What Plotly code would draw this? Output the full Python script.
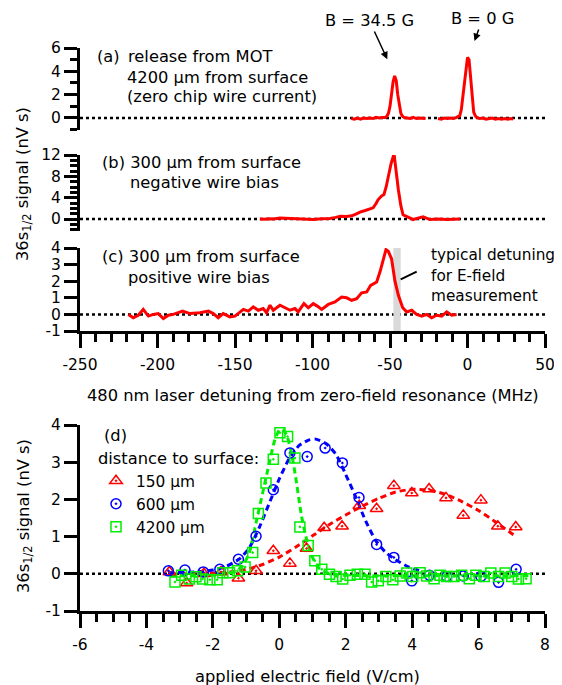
import plotly.graph_objects as go

# ---------------- data ----------------
# panel (a): release from MOT, two separate scans
a1_x = [-75, -73, -71, -69, -67, -65, -63, -61, -59, -57, -55, -53, -52, -51, -50, -49, -48, -47, -46, -45, -44, -43, -42, -41, -39, -37, -35, -33, -31, -29, -27]
a1_y = [-0.05, -0.1, 0.0, -0.1, 0.0, -0.05, 0.0, -0.05, 0.05, 0.0, 0.05, 0.05, 0.15, 0.4, 1.0, 2.0, 3.1, 3.6, 3.2, 2.0, 1.0, 0.4, 0.15, 0.05, 0.0, -0.05, 0.05, -0.05, 0.0, -0.05, -0.05]
a2_x = [-19, -17, -15, -13, -11, -9, -7, -5, -4, -3, -2, -1, 0, 1, 2, 3, 4, 5, 6, 8, 10, 12, 14, 16, 18, 20, 22, 24, 26, 28, 29.5]
a2_y = [-0.05, -0.1, 0.0, -0.05, 0.0, -0.05, 0.05, 0.2, 0.7, 1.8, 3.1, 4.4, 5.2, 5.0, 3.5, 1.6, 0.5, 0.2, 0.05, -0.05, 0.0, -0.1, -0.05, 0.0, -0.1, -0.05, -0.1, -0.05, -0.1, -0.05, -0.1]

# panel (b): 300 um, negative wire bias
b_x = [-134, -131, -128, -125, -121, -116, -110, -105, -99.6, -94, -88.7, -85, -82, -78, -74.7, -72, -69.4, -66, -64, -60.9, -59, -57.7, -55.5, -53.9, -52.5, -51.2, -49.3, -47.4, -46, -44.6, -43, -41.6, -38, -35.1, -31.5, -28.6, -24.2, -19, -13.4, -9, -4.8]
b_y = [0.0, -0.05, 0.05, 0.0, 0.2, 0.15, 0.1, 0.0, -0.1, 0.05, 0.1, 0.3, 0.5, 0.45, 0.6, 0.9, 1.3, 1.6, 1.8, 2.1, 2.9, 3.6, 4.3, 4.6, 6.0, 8.0, 10.4, 12.2, 8.5, 5.5, 2.5, 0.8, 0.3, -0.1, 0.2, 0.4, -0.1, 0.0, -0.1, -0.05, 0.0]

# panel (c): 300 um, positive wire bias
c_x = [-218.8, -215.6, -212.4, -209.2, -205.9, -202.7, -199.5, -196.2, -193, -189.8, -183.8, -179, -172.6, -167.2, -164, -160.8, -157.6, -153.3, -150, -144.6, -141.4, -138.2, -135, -131.8, -129.7, -127.4, -125.3, -122, -121, -117.7, -114.5, -111.3, -109.2, -107, -105.5, -102.7, -99.5, -96.9, -94.1, -89.8, -85.5, -81.2, -78, -74.7, -71.5, -68.3, -65, -62.5, -58.6, -56.5, -54.3, -52.6, -51.1, -49, -46.8, -44.6, -41.8, -39.2, -36, -32.8, -29.5, -26.3, -23.1, -19.9, -16.6, -13.4, -10.2, -7]
c_y = [0.0, -0.2, -0.05, 0.3, -0.1, 0.0, 0.05, -0.25, -0.05, 0.0, 0.2, 0.05, 0.1, 0.2, 0.05, -0.2, 0.05, -0.15, -0.1, 0.3, 0.2, 0.45, 0.25, 0.35, 0.1, 0.55, 0.25, 0.45, 0.55, 0.4, 0.25, 0.35, 0.15, 0.45, 0.65, 0.4, 0.65, 0.5, 0.3, 0.6, 0.75, 1.05, 1.0, 0.85, 0.95, 1.3, 1.35, 1.75, 1.95, 2.55, 3.25, 3.9, 3.8, 3.35, 2.0, 1.15, 0.4, 0.15, 0.25, 0.0, -0.1, 0.0, -0.2, -0.05, -0.1, 0.15, -0.05, 0.0]

# typical detuning band (MHz)
band_lo, band_hi = -47.8, -43.1

# panel (d): signal vs applied field
red_x = [-3.31, -2.79, -2.27, -1.75, -1.23, -0.7, -0.18, 0.32, 0.82, 1.35, 1.89, 2.41, 2.93, 3.45, 3.99, 4.51, 5.02, 5.54, 6.07, 6.58, 7.12]
red_y = [0.05, -0.25, 0.0, 0.05, -0.12, 0.08, 0.62, 0.28, 0.68, 1.24, 1.28, 1.83, 1.75, 2.37, 2.17, 2.28, 2.04, 1.57, 1.98, 1.28, 1.26]
blue_x = [-3.34, -2.84, -2.29, -1.79, -1.23, -0.7, -0.18, 0.32, 0.84, 1.38, 1.9, 2.4, 2.93, 3.45, 3.99, 4.52, 5.04, 5.54, 6.07, 6.6, 7.13]
blue_y = [0.08, 0.1, 0.05, 0.12, 0.39, 1.01, 2.26, 3.25, 3.15, 3.38, 2.98, 2.05, 0.79, 0.44, -0.19, -0.04, -0.07, -0.06, -0.07, -0.23, 0.12]
green_x = [-3.14, -2.94, -2.71, -2.51, -2.31, -2.09, -1.87, -1.7, -1.5, -1.26, -1.03, -0.8, -0.63, -0.4, -0.18, 0.02, 0.25, 0.47, 0.62, 0.87, 1.07, 1.28, 1.51, 1.71, 1.91, 2.13, 2.35, 2.58, 2.78, 2.98, 3.21, 3.42, 3.64, 3.84, 4.02, 4.24, 4.44, 4.66, 4.84, 5.04, 5.26, 5.49, 5.72, 5.92, 6.17, 6.37, 6.6, 6.8, 7.0, 7.2, 7.43]
green_y = [-0.22, -0.04, -0.14, -0.08, -0.14, -0.16, -0.16, 0.03, 0.03, 0.08, 0.18, 0.57, 1.62, 2.44, 3.08, 3.79, 3.69, 3.11, 1.26, 0.76, 0.35, 0.12, -0.01, -0.07, -0.14, -0.04, -0.01, -0.01, -0.22, -0.19, -0.07, -0.16, -0.06, 0.02, -0.07, 0.03, -0.06, -0.13, -0.04, -0.07, -0.07, -0.04, -0.13, -0.04, -0.07, 0.02, -0.07, 0.02, -0.07, -0.14, -0.13]

red_fit_x = [-3.3, -2.5, -2.0, -1.5, -1.0, -0.5, 0.0, 0.5, 1.0, 1.5, 2.0, 2.5, 3.0, 3.5, 4.0, 4.5, 5.0, 5.5, 6.0, 6.5, 7.05]
red_fit_y = [0.0, 0.0, 0.02, 0.05, 0.12, 0.25, 0.45, 0.72, 1.02, 1.32, 1.58, 1.82, 2.03, 2.2, 2.27, 2.25, 2.14, 1.94, 1.7, 1.4, 1.05]
blue_fit_x = [-3.35, -2.5, -2.0, -1.6, -1.2, -0.9, -0.6, -0.3, 0.0, 0.3, 0.6, 0.9, 1.1, 1.4, 1.7, 2.0, 2.3, 2.6, 2.9, 3.2, 3.5, 3.9, 4.3]
blue_fit_y = [0.03, 0.05, 0.1, 0.2, 0.4, 0.7, 1.25, 1.9, 2.55, 3.1, 3.45, 3.6, 3.62, 3.5, 3.22, 2.67, 2.07, 1.42, 0.9, 0.58, 0.38, 0.18, 0.06]
green_fit_x = [-3.3, -2.5, -2.0, -1.6, -1.3, -1.1, -0.9, -0.7, -0.5, -0.3, -0.15, 0.0, 0.1, 0.22, 0.37, 0.52, 0.67, 0.82, 0.98, 1.17, 1.43, 1.8, 2.5, 3.5, 4.5, 5.5, 6.5, 7.5]
green_fit_y = [-0.05, -0.05, -0.04, 0.0, 0.07, 0.22, 0.57, 1.37, 2.18, 2.98, 3.55, 3.86, 3.88, 3.73, 3.24, 2.44, 1.55, 0.93, 0.48, 0.17, 0.03, -0.03, -0.05, -0.05, -0.05, -0.05, -0.05, -0.05]

legend_names = ["150 µm", "600 µm", "4200 µm"]

# tick values / labels (hyphen minus as in the reference)
top_xticks = [-250, -200, -150, -100, -50, 0, 50]
top_xlabels = ["-250", "-200", "-150", "-100", "-50", "0", "50"]
a_yticks = [0, 2, 4, 6]
b_yticks = [0, 4, 8, 12]
c_yticks = [-1, 0, 1, 2, 3, 4]
c_ylabels = ["-1", "0", "1", "2", "3", "4"]
d_xticks = [-6, -4, -2, 0, 2, 4, 6, 8]
d_xlabels = ["-6", "-4", "-2", "0", "2", "4", "6", "8"]
d_yticks = [-1, 0, 1, 2, 3, 4]
d_ylabels = ["-1", "0", "1", "2", "3", "4"]

# ---------------- layout helpers ----------------
OFF = 8            # page body margin of the browser
W, H = 562 - OFF, 685 - OFF
FONT = "DejaVu Sans"
FS = 16.3
TFS = 15.5


def px(x):
    return (x - OFF) / W


def py(y):
    return 1 - (y - OFF) / H


RED = "#ff0000"
BLUE = "#0000ff"
GREEN = "#00ee00"

fig = go.Figure()

fig.add_trace(go.Scatter(x=a1_x, y=a1_y, mode="lines", line=dict(color=RED, width=3), xaxis="x2", yaxis="y2", showlegend=False))
fig.add_trace(go.Scatter(x=a2_x, y=a2_y, mode="lines", line=dict(color=RED, width=3), xaxis="x2", yaxis="y2", showlegend=False))
fig.add_trace(go.Scatter(x=b_x, y=b_y, mode="lines", line=dict(color=RED, width=3), xaxis="x3", yaxis="y3", showlegend=False))
fig.add_trace(go.Scatter(x=c_x, y=c_y, mode="lines", line=dict(color=RED, width=3), xaxis="x", yaxis="y", showlegend=False))

dash = "6px,4px"
fig.add_trace(go.Scatter(x=red_fit_x, y=red_fit_y, mode="lines", line=dict(color=RED, width=3, dash=dash, shape="spline", smoothing=0.6), xaxis="x4", yaxis="y4", showlegend=False))
fig.add_trace(go.Scatter(x=blue_fit_x, y=blue_fit_y, mode="lines", line=dict(color=BLUE, width=3, dash=dash, shape="spline", smoothing=0.6), xaxis="x4", yaxis="y4", showlegend=False))
fig.add_trace(go.Scatter(x=green_fit_x, y=green_fit_y, mode="lines", line=dict(color=GREEN, width=3, dash=dash, shape="spline", smoothing=0.6), xaxis="x4", yaxis="y4", showlegend=False))

fig.add_trace(go.Scatter(x=red_x, y=red_y, mode="markers", name=legend_names[0],
                         marker=dict(symbol="triangle-up-open-dot", size=11, color=RED, line=dict(width=1.5, color=RED)),
                         xaxis="x4", yaxis="y4"))
fig.add_trace(go.Scatter(x=blue_x, y=blue_y, mode="markers", name=legend_names[1],
                         marker=dict(symbol="circle-open-dot", size=10, color=BLUE, line=dict(width=1.5, color=BLUE)),
                         xaxis="x4", yaxis="y4"))
fig.add_trace(go.Scatter(x=green_x, y=green_y, mode="markers", name=legend_names[2],
                         marker=dict(symbol="square-open-dot", size=10, color=GREEN, line=dict(width=1.5, color=GREEN)),
                         xaxis="x4", yaxis="y4"))

xdom = [px(80), px(545)]
tickfont = dict(family=FONT, size=TFS, color="black")

common_y = dict(showline=True, linecolor="black", linewidth=3, ticks="outside", ticklen=13, tickwidth=2.5,
                tickcolor="black", showgrid=False, zeroline=False, tickfont=tickfont, mirror=False, automargin=False)
common_x = dict(showline=True, linecolor="black", linewidth=3, ticks="outside", ticklen=14, tickwidth=2.5,
                tickcolor="black", showgrid=False, zeroline=False, tickfont=tickfont, mirror=False, automargin=False,
                ticklabelstandoff=3)
minor_x = dict(ticks="outside", ticklen=8, tickwidth=2.5, tickcolor="black")
minor_y = dict(ticks="outside", ticklen=7, tickwidth=2.5, tickcolor="black")

fig.update_layout(
    width=W, height=H,
    margin=dict(l=0, r=0, t=0, b=0, autoexpand=False),
    paper_bgcolor="white", plot_bgcolor="white",
    font=dict(family=FONT, size=FS, color="black"),
    xaxis=dict(domain=xdom, range=[-250, 50], tickvals=top_xticks, ticktext=top_xlabels, anchor="y",
               minor=dict(dtick=10, **minor_x), **common_x),
    yaxis=dict(domain=[py(331), py(248)], range=[-1, 4], tickvals=c_yticks, ticktext=c_ylabels, anchor="x", **common_y),
    xaxis2=dict(domain=xdom, range=[-250, 50], matches="x", anchor="y2", visible=False),
    yaxis2=dict(domain=[py(130), py(48)], range=[-1.03, 6], tickvals=a_yticks, anchor="x2",
                minor=dict(dtick=1, **minor_y), **common_y),
    xaxis3=dict(domain=xdom, range=[-250, 50], matches="x", anchor="y3", visible=False),
    yaxis3=dict(domain=[py(231), py(155)], range=[-2.25, 12], tickvals=b_yticks, anchor="x3",
                minor=dict(dtick=1, **minor_y), **common_y),
    xaxis4=dict(domain=xdom, range=[-6, 8], tickvals=d_xticks, ticktext=d_xlabels, anchor="y4",
                minor=dict(dtick=0.5, **minor_x), **common_x),
    yaxis4=dict(domain=[py(611), py(425)], range=[-1, 4], tickvals=d_yticks, ticktext=d_ylabels, anchor="x4", **common_y),
    showlegend=True,
    legend=dict(x=px(96), y=py(443), xanchor="left", yanchor="top", bgcolor="rgba(0,0,0,0)",
                font=dict(family=FONT, size=15.4, color="black"),
                title=dict(text="distance to surface:", font=dict(family=FONT, size=FS, color="black")),
                itemclick=False, tracegroupgap=0),
)

# dotted zero lines and band
zero_dash = "3px,3px"
for xr, yr in [("x2 domain", "y2"), ("x3 domain", "y3"), ("x domain", "y"), ("x4 domain", "y4")]:
    fig.add_shape(type="line", xref=xr, yref=yr, x0=0, x1=1, y0=0, y1=0,
                  line=dict(color="black", width=2.5, dash=zero_dash), layer="below")
fig.add_shape(type="rect", xref="x", yref="y domain", x0=band_lo, x1=band_hi, y0=0, y1=1,
              fillcolor="#d9d9d9", line=dict(width=0), layer="below")
# pointer line to band
fig.add_shape(type="line", xref="paper", yref="paper", x0=px(416.7), y0=py(271.7), x1=px(400.7), y1=py(279.3),
              line=dict(color="black", width=2))


def text(t, x, y, anchor="left", size=FS):
    fig.add_annotation(text=t, xref="paper", yref="paper", x=px(x), y=py(y), xanchor=anchor, yanchor="middle",
                       showarrow=False, font=dict(family=FONT, size=size, color="black"))


text("(a)", 95, 57)
text("release from MOT", 126, 57)
text("4200 µm from surface", 125, 77.5)
text("(zero chip wire current)", 125, 97)
text("(b) 300 µm from surface", 100, 162)
text("negative wire bias", 127.7, 182)
text("(c) 300 µm from surface", 100, 257)
text("positive wire bias", 126, 278)
text("typical detuning", 429, 255, size=15.3)
text("for E-field", 429, 275.5, size=15.3)
text("measurement", 429, 296, size=15.3)
text("(d)", 101.7, 435)
text("480 nm laser detuning from zero-field resonance (MHz)", 312.5, 395, "center")
text("applied electric field (V/cm)", 307.5, 676, "center")

for yc in (184, 516):
    fig.add_annotation(text="36s<sub>1/2</sub> signal (nV s)", xref="paper", yref="paper", x=px(24), y=py(yc),
                       xanchor="center", yanchor="middle", textangle=-90, showarrow=False,
                       font=dict(family=FONT, size=FS, color="black"))

# arrows to the peaks
for label, tipx, tipy, tx, ty in [("B = 34.5 G", 387.3, 59.3, 369.3, 20.5), ("B = 0 G", 474.5, 41, 482.7, 18.5)]:
    fig.add_annotation(text=label, xref="paper", yref="paper", x=px(tipx), y=py(tipy),
                       ax=tx - tipx, ay=ty - tipy, showarrow=True, arrowhead=2, arrowsize=1.0, arrowwidth=1.5,
                       arrowcolor="black", font=dict(family=FONT, size=FS, color="black"))

fig.write_html("out.html")
